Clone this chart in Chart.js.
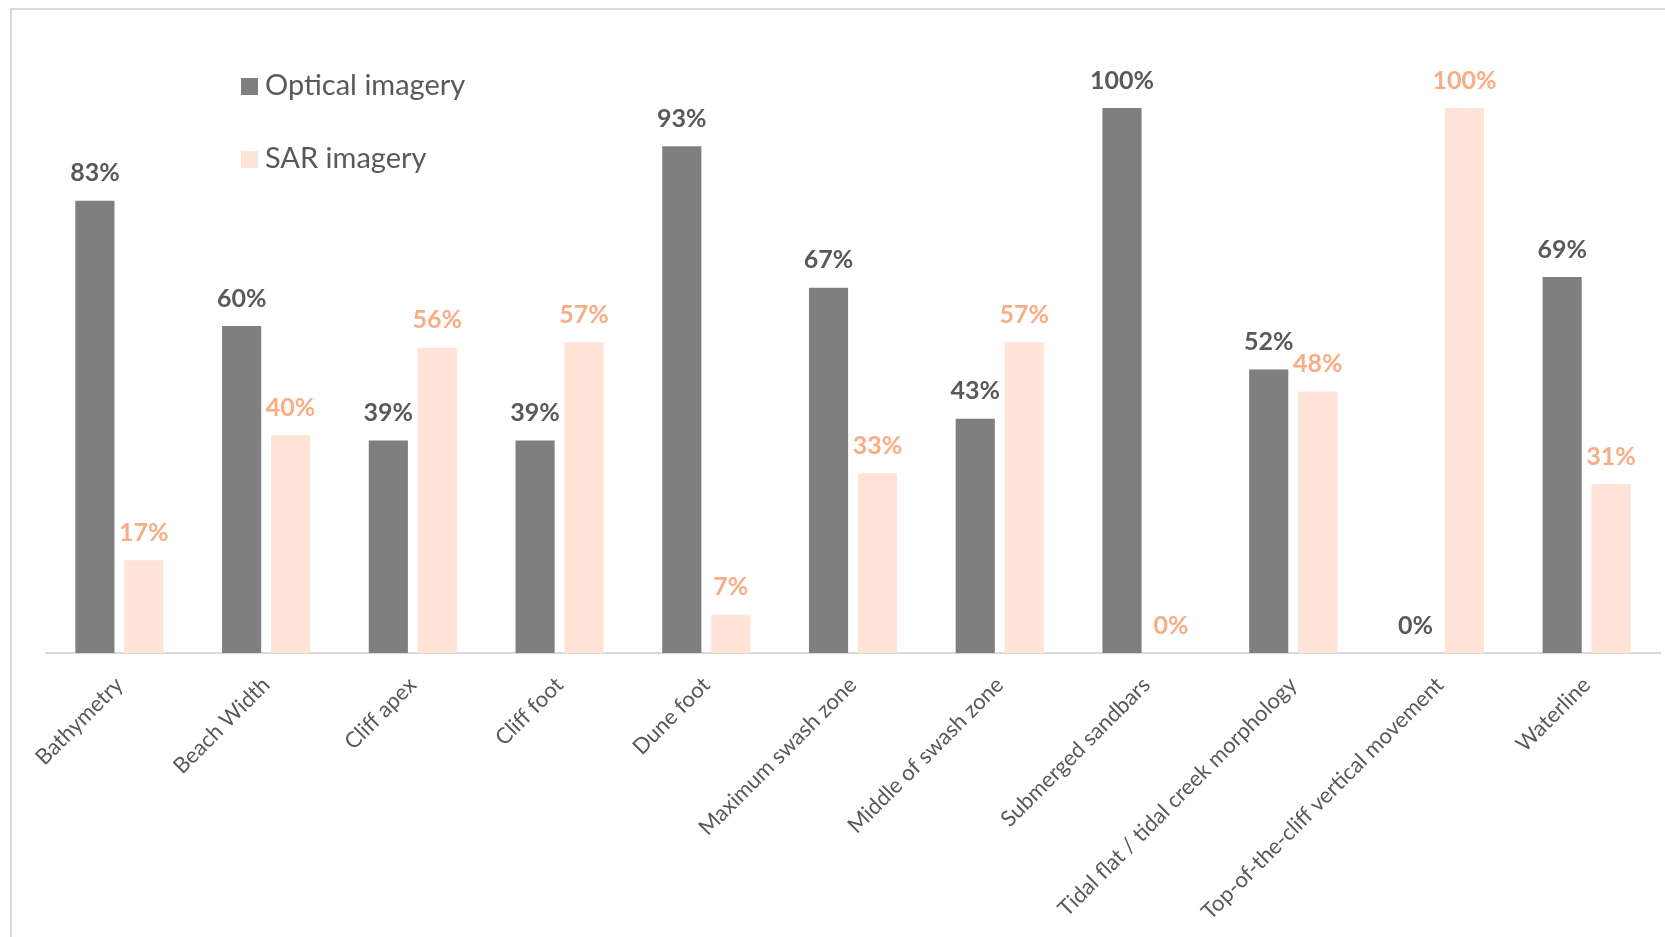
<!DOCTYPE html>
<html>
<head>
<meta charset="utf-8">
<script src="https://cdn.jsdelivr.net/npm/chart.js@4.4.0/dist/chart.umd.min.js"></script>
<style>
  html, body { margin: 0; padding: 0; background: #fff; overflow: hidden; }
  #frame { position: absolute; left: 10px; top: 8px; width: 1700px; height: 1000px; border: 2px solid #d9d9d9; box-sizing: border-box; }
  #wrap { position: absolute; left: 0; top: 0; width: 1665px; height: 937px; }
</style>
</head>
<body>
<div id="frame"></div>
<div id="wrap"><canvas id="chart"></canvas></div>
<script>
const categories = [
  'Bathymetry', 'Beach Width', 'Cliff apex', 'Cliff foot', 'Dune foot',
  'Maximum swash zone', 'Middle of swash zone', 'Submerged sandbars',
  'Tidal flat / tidal creek morphology', 'Top-of-the-cliff vertical movement', 'Waterline'
]
const opticalValues = [83, 60, 39, 39, 93, 67, 43, 100, 52, 0, 69]
const sarValues = [17, 40, 56, 57, 7, 33, 57, 0, 48, 100, 31]

const opticalColor = '#7f7f7f'
const sarColor = '#fee3d6'
const opticalLabelColor = '#595959'
const sarLabelColor = '#f8ad85'

Chart.defaults.font.family = 'Lato'

// percent labels above each bar
const valueLabels = {
  id: 'valueLabels',
  afterDatasetsDraw (chart) {
    const ctx = chart.ctx
    ctx.save()
    ctx.font = 'bold 25px Lato'
    ctx.textAlign = 'center'
    ctx.textBaseline = 'bottom'
    chart.data.datasets.forEach((ds, i) => {
      ctx.fillStyle = ds.labelColor
      chart.getDatasetMeta(i).data.forEach((bar, j) => {
        ctx.fillText(ds.data[j] + '%', bar.x, bar.y - 15)
      })
    })
    ctx.restore()
  }
}

// legend stacked top-left inside the plot
const sideLegend = {
  id: 'sideLegend',
  afterDraw (chart) {
    const ctx = chart.ctx
    ctx.save()
    ctx.font = '29px Lato'
    ctx.textBaseline = 'middle'
    chart.data.datasets.forEach((ds, i) => {
      const y = 86 + i * 73
      ctx.fillStyle = ds.backgroundColor
      ctx.fillRect(241, y - 8, 17, 17)
      ctx.fillStyle = opticalLabelColor
      ctx.fillText(ds.label, 265, y)
    })
    ctx.restore()
  }
}

const chart = new Chart(document.getElementById('chart').getContext('2d'), {
  type: 'bar',
  data: {
    labels: categories,
    datasets: [
      {
        label: 'Optical imagery',
        data: opticalValues,
        backgroundColor: opticalColor,
        labelColor: opticalLabelColor,
        categoryPercentage: 0.667,
        barPercentage: 0.8
      },
      {
        label: 'SAR imagery',
        data: sarValues,
        backgroundColor: sarColor,
        labelColor: sarLabelColor,
        categoryPercentage: 0.667,
        barPercentage: 0.8
      }
    ]
  },
  options: {
    responsive: true,
    maintainAspectRatio: false,
    animation: false,
    layout: {
      padding: { left: 46, top: 108, right: 5, bottom: 0 }
    },
    plugins: {
      legend: { display: false },
      tooltip: { enabled: false }
    },
    scales: {
      x: {
        grid: { display: false },
        border: { color: '#d9d9d9', width: 2 },
        ticks: {
          minRotation: 45,
          maxRotation: 45,
          padding: 11,
          color: opticalLabelColor,
          font: { size: 22 }
        },
        afterFit: (scale) => { scale.height = 284 }
      },
      y: {
        display: false,
        min: 0,
        max: 100
      }
    }
  },
  plugins: [valueLabels, sideLegend]
})
</script>
</body>
</html>
